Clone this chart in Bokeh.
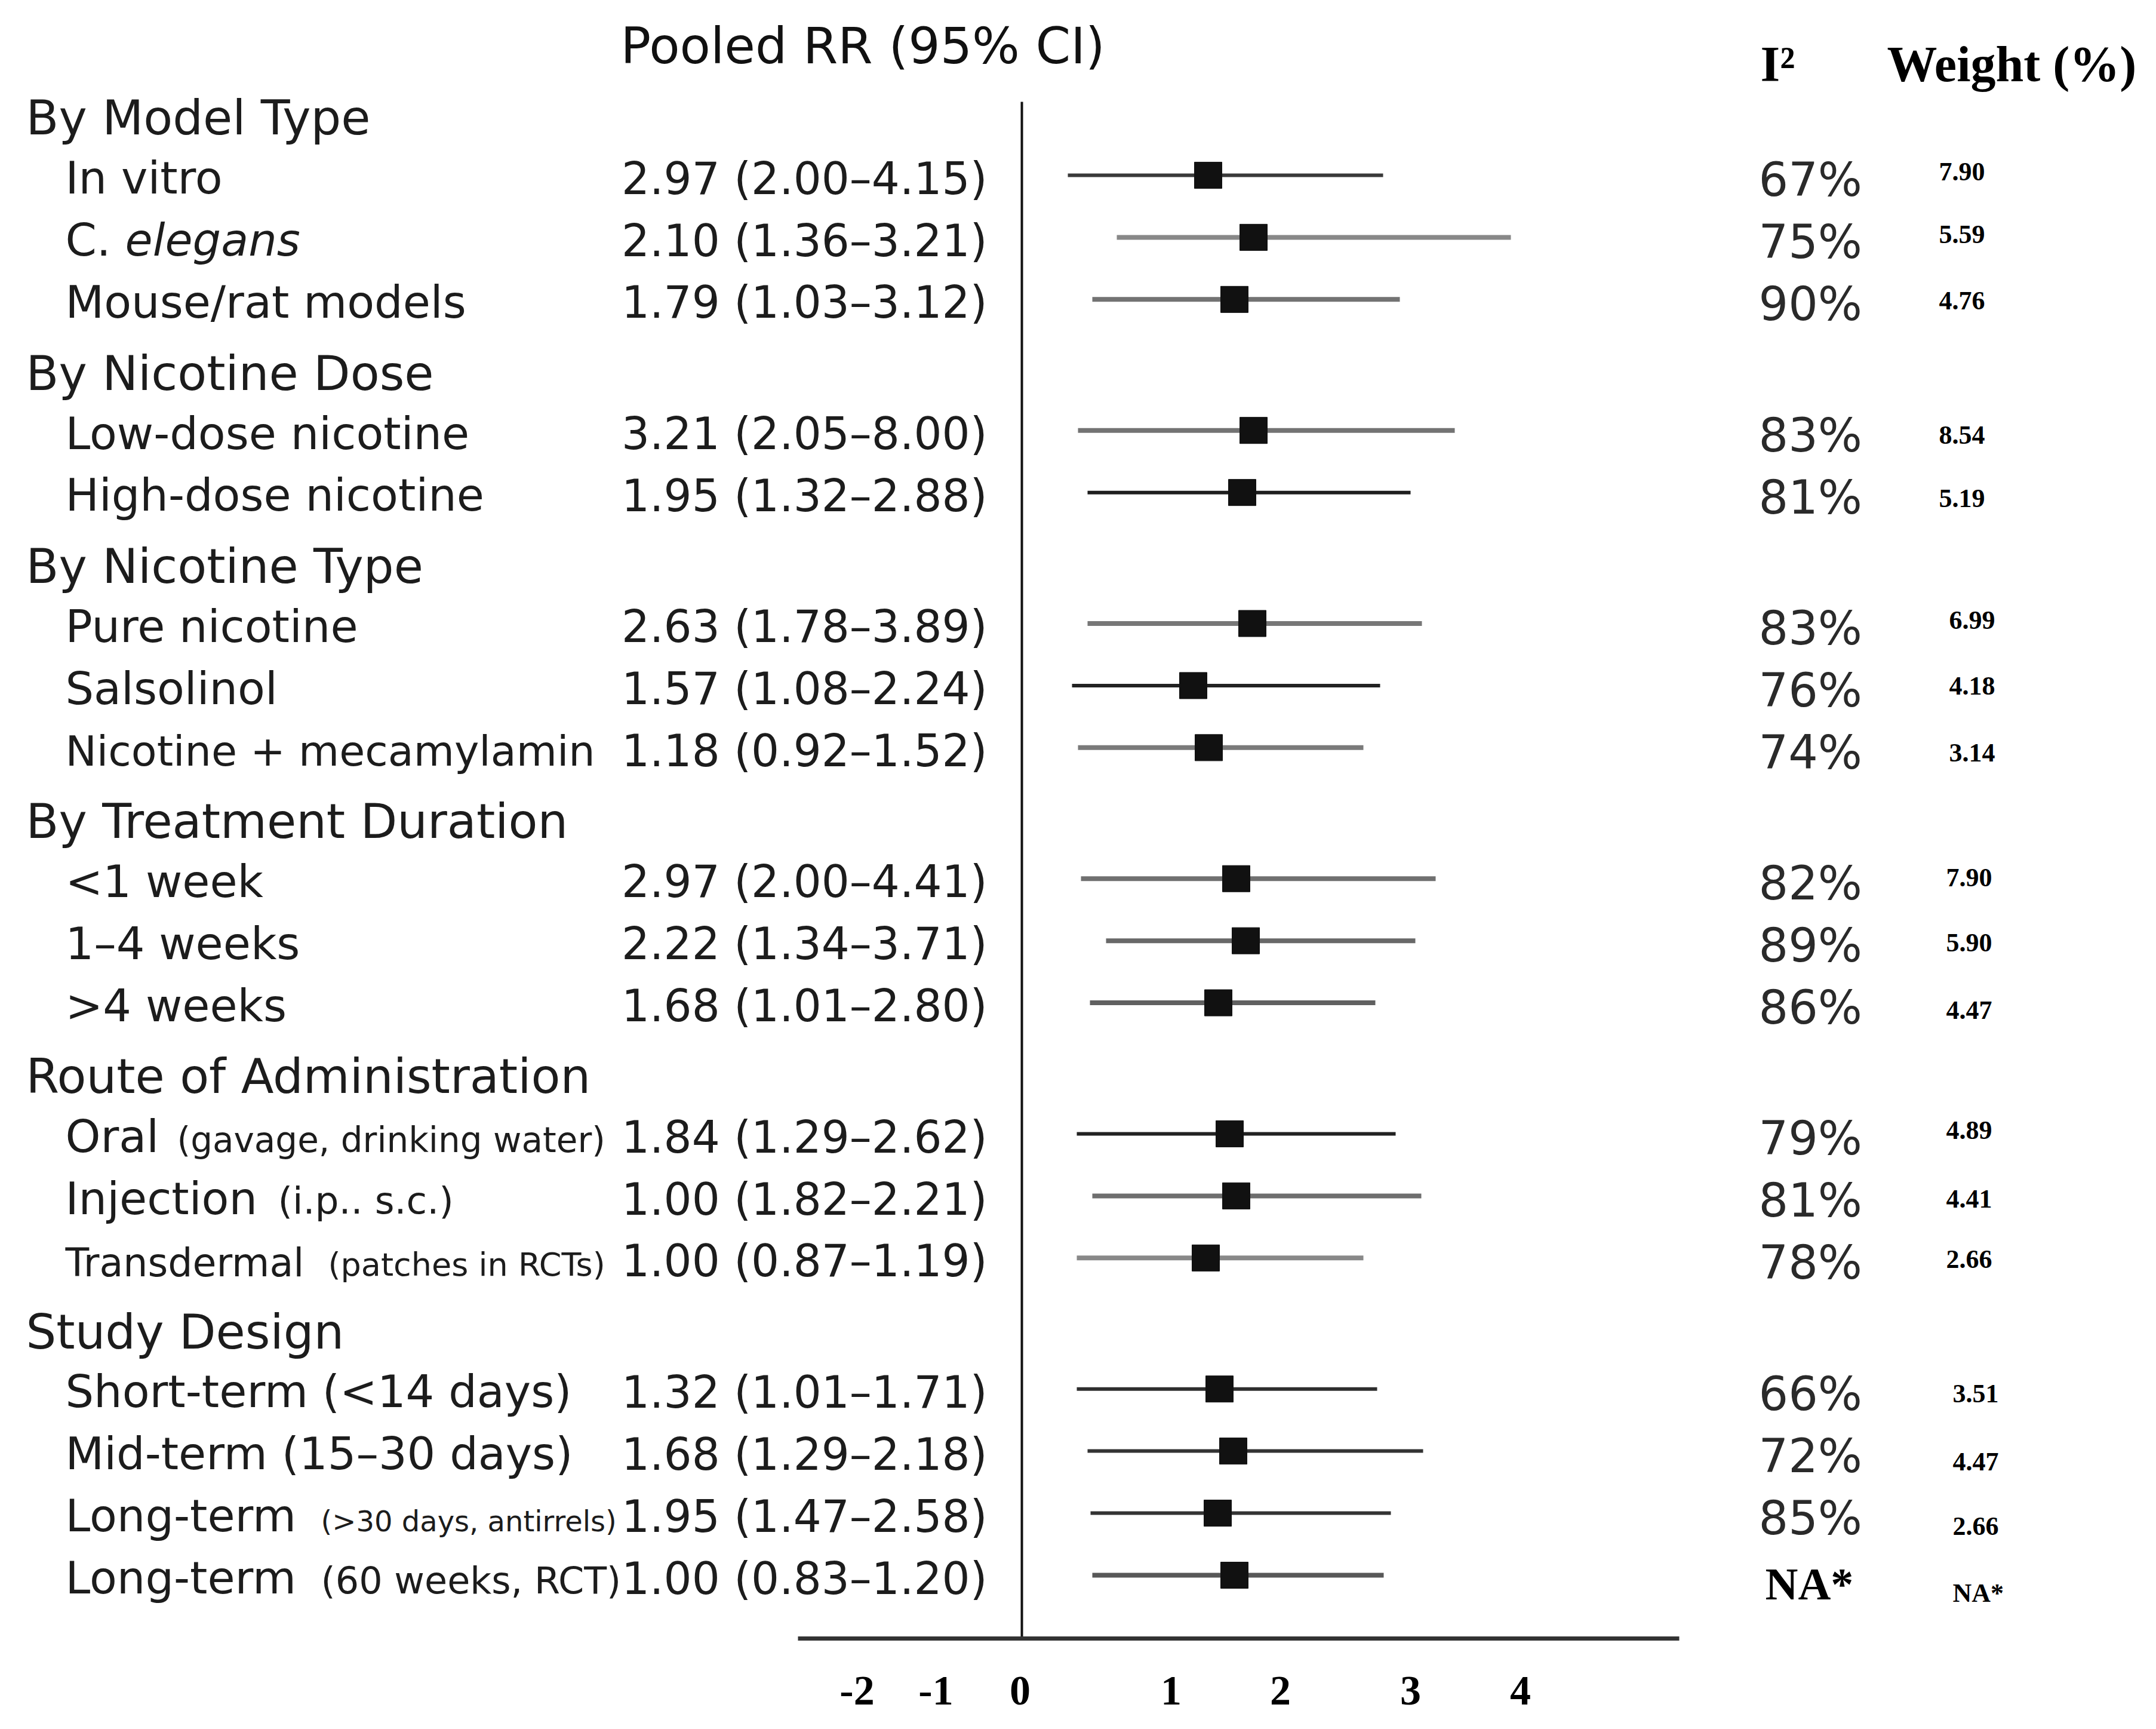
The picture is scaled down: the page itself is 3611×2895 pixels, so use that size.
from bokeh.plotting import figure
from bokeh.models import ColumnDataSource, Range1d, FixedTicker, CustomJSTickFormatter
from bokeh.core.properties import value
from bokeh.embed import file_html
from bokeh.resources import INLINE

# ---------------- data ----------------
groups = ["By Model Type", "By Nicotine Dose", "By Nicotine Type",
          "By Treatment Duration", "Route of Administration", "Study Design"]
group_sizes = [3, 2, 3, 3, 3, 4]

item_main = ["In vitro", "C.", "Mouse/rat models",
             "Low-dose nicotine", "High-dose nicotine",
             "Pure nicotine", "Salsolinol", "Nicotine + mecamylamin",
             "<1 week", "1\u20134 weeks", ">4 weeks",
             "Oral", "Injection", "Transdermal",
             "Short-term (<14 days)", "Mid-term (15\u201330 days)", "Long-term", "Long-term"]
item_note = ["", "elegans", "",
             "", "",
             "", "", "",
             "", "", "",
             "(gavage, drinking water)", "(i.p.. s.c.)", "(patches in RCTs)",
             "", "", "(>30 days, antirrels)", "(60 weeks, RCT)"]

rr_est = [2.97, 2.10, 1.79, 3.21, 1.95, 2.63, 1.57, 1.18, 2.97, 2.22, 1.68, 1.84, 1.00, 1.00, 1.32, 1.68, 1.95, 1.00]
rr_lo = [2.00, 1.36, 1.03, 2.05, 1.32, 1.78, 1.08, 0.92, 2.00, 1.34, 1.01, 1.29, 1.82, 0.87, 1.01, 1.29, 1.47, 0.83]
rr_hi = [4.15, 3.21, 3.12, 8.00, 2.88, 3.89, 2.24, 1.52, 4.41, 3.71, 2.80, 2.62, 2.21, 1.19, 1.71, 2.18, 2.58, 1.20]
i2_pct = [67, 75, 90, 83, 81, 83, 76, 74, 82, 89, 86, 79, 81, 78, 66, 72, 85, None]
weight_pct = [7.90, 5.59, 4.76, 8.54, 5.19, 6.99, 4.18, 3.14, 7.90, 5.90, 4.47, 4.89, 4.41, 2.66, 3.51, 4.47, 2.66, None]

# where the squares and whiskers sit on the drawn axis
plot_est = [1.248, 1.552, 1.424, 1.552, 1.476, 1.544, 1.148, 1.252, 1.436, 1.500, 1.316, 1.392, 1.436, 1.232, 1.324, 1.416, 1.312, 1.424]
plot_lo = [0.308, 0.636, 0.472, 0.376, 0.440, 0.440, 0.336, 0.376, 0.396, 0.564, 0.456, 0.368, 0.472, 0.368, 0.368, 0.440, 0.460, 0.472]
plot_hi = [2.420, 3.276, 2.532, 2.900, 2.604, 2.680, 2.400, 2.288, 2.772, 2.636, 2.368, 2.504, 2.676, 2.288, 2.380, 2.688, 2.472, 2.424]

tick_pos = [-1.104, -0.576, -0.012, 1.0, 1.732, 2.604, 3.34]
tick_labels = ["-2", "-1", "0", "1", "2", "3", "4"]

# ---------------- layout / style ----------------
W, H = 3595, 2879
X0_REF, UX = 1711.0, 250.0      # pixel of x=0, px per unit
Y0_REF, UY = 189.0, 103.95      # pixel of row 0, px per row
FRAME_BOTTOM = 2743


def X(ref):
    return (ref - X0_REF) / UX


def PY(px):
    return px / UY


def BL(row_y, size_px):
    # desired alphabetic baseline -> y handed to bokeh (empirical shift)
    return row_y - 0.31 * size_px / UY


line_colors = ["#3a3a3a", "#888888", "#737373", "#737373", "#1e1e1e", "#777777", "#222222", "#7a7a7a", "#707070",
               "#686868", "#606060", "#222222", "#6e6e6e", "#888888", "#2e2e2e", "#333333", "#333333", "#585858"]
line_widths = [6 if c in ("#3a3a3a", "#1e1e1e", "#222222", "#2e2e2e", "#333333") else 8 for c in line_colors]

main_px = [75] * 18
main_px[7] = 70
main_px[13] = 65
note_px = [75] * 18
note_px[11], note_px[12], note_px[13], note_px[16], note_px[17] = 58, 63, 54, 48, 62
note_styles = ["normal"] * 18
note_styles[1] = "italic"
note_offsets_px = [0, 100, 0, 0, 0, 0, 0, 0, 0, 0, 0, 187, 356, 440, 0, 0, 428, 428]
weight_nudge_px = [-7, -6, 1, 6, 9, -7, -1, 7, -3, 2, 11, -7, 4, 1, 6, 17, 21, 29]
group_weight_ref = [3247, 3247, 3264, 3259, 3259, 3270]

# row positions
item_y, header_y, item_group = [], [], []
y = 1.0
for g, n in enumerate(group_sizes):
    if g > 0:
        y += 1.11
    header_y.append(y - 0.93)
    for i in range(n):
        item_y.append(y)
        item_group.append(g)
        y += 1

y_bottom = (FRAME_BOTTOM - Y0_REF) / UY
y_top = (0 - Y0_REF) / UY

p = figure(width=W, height=H, output_backend="svg", toolbar_location=None,
           x_range=Range1d(X(0), X(W)), y_range=Range1d(y_bottom, y_top),
           y_axis_location=None, min_border_left=0, min_border_right=0,
           min_border_top=0, min_border_bottom=H - FRAME_BOTTOM)
p.outline_line_color = None
p.grid.visible = False
p.background_fill_color = "white"
p.border_fill_color = "white"

SANS = value("DejaVu Sans")
SERIF = value("Liberation Serif")
TXT = "#1c1c1c"

# header texts
p.text(x=[X(1039)], y=[BL(PY(103 - Y0_REF), 84)], text=["Pooled RR (95% CI)"], text_font=SANS,
       text_font_size="84px", text_color="#111111", text_baseline="alphabetic", text_align="left")
p.text(x=[X(2948), X(3160)], y=[BL(PY(133 - Y0_REF), 84)] * 2, text=["I\u00b2", "Weight (%)"], text_font=SERIF,
       text_font_style="bold", text_font_size="84px", text_color="#000000",
       text_baseline="alphabetic", text_align="left")

# group headings
p.text(x=[X(43)] * len(groups), y=[BL(hy + 0.25, 80) for hy in header_y], text=groups, text_font=SANS,
       text_font_size="80px", text_color=TXT, text_baseline="alphabetic", text_align="left")

# item labels
base = [yy + 0.27 for yy in item_y]
src_main = ColumnDataSource(dict(x=[X(109)] * 18, y=[BL(base[i], main_px[i]) for i in range(18)], t=item_main,
                                 s=[f"{v}px" for v in main_px]))
p.text(x="x", y="y", text="t", text_font_size="s", source=src_main, text_font=SANS,
       text_color=TXT, text_baseline="alphabetic", text_align="left")
idx = [i for i in range(18) if item_note[i]]
src_note = ColumnDataSource(dict(x=[X(109 + note_offsets_px[i]) for i in idx],
                                 y=[BL(base[i], note_px[i]) for i in idx],
                                 t=[item_note[i] for i in idx], s=[f"{note_px[i]}px" for i in idx],
                                 st=[note_styles[i] for i in idx]))
p.text(x="x", y="y", text="t", text_font_size="s", text_font_style="st", source=src_note,
       text_font=SANS, text_color=TXT, text_baseline="alphabetic", text_align="left")

# RR (95% CI)
rr_txt = [f"{e:.2f} ({l:.2f}\u2013{h:.2f})" for e, l, h in zip(rr_est, rr_lo, rr_hi)]
p.text(x=[X(1653)] * 18, y=[BL(b, 74) for b in base], text=rr_txt, text_font=SANS, text_font_size="74px",
       text_color=TXT, text_baseline="alphabetic", text_align="right")

# I^2
i2_idx = [i for i in range(18) if i2_pct[i] is not None]
p.text(x=[X(2945)] * len(i2_idx), y=[BL(item_y[i] + 0.31, 78) for i in i2_idx],
       text=[f"{i2_pct[i]}%" for i in i2_idx],
       text_font=SANS, text_font_size="78px", text_color="#2a2a2a", text_baseline="alphabetic", text_align="left")
na_idx = [i for i in range(18) if i2_pct[i] is None]
p.text(x=[X(2956)] * len(na_idx), y=[BL(item_y[i] + 0.37, 76) for i in na_idx], text=["NA*"] * len(na_idx),
       text_font=SERIF, text_font_style="bold", text_font_size="76px", text_color="#000000",
       text_baseline="alphabetic", text_align="left")

# weights
w_txt = [f"{w:.2f}" if w is not None else "NA*" for w in weight_pct]
p.text(x=[X(group_weight_ref[item_group[i]]) for i in range(18)],
       y=[BL(item_y[i] + PY(weight_nudge_px[i] + 15), 44) for i in range(18)], text=w_txt,
       text_font=SERIF, text_font_style="bold", text_font_size="44px", text_color="#000000",
       text_baseline="alphabetic", text_align="left")

# zero line
p.segment(x0=[0], y0=[PY(170 - Y0_REF)], x1=[0], y1=[y_bottom], line_color="#111111", line_width=4)

# whiskers and squares
src = ColumnDataSource(dict(y=item_y, est=plot_est, lo=plot_lo, hi=plot_hi, c=line_colors, w=line_widths))
p.segment(x0="lo", y0="y", x1="hi", y1="y", line_color="c", line_width="w", source=src)
p.rect(x="est", y="y", width=46, height=44, width_units="screen", height_units="screen",
       fill_color="#111111", line_color="#111111", line_width=1, source=src)

# axis
ax = p.xaxis[0]
ax.ticker = FixedTicker(ticks=tick_pos)
ax.formatter = CustomJSTickFormatter(args=dict(pos=tick_pos, lab=tick_labels), code="""
let b = 0;
for (let i = 0; i < pos.length; i++) { if (Math.abs(pos[i] - tick) < Math.abs(pos[b] - tick)) b = i; }
return lab[b];
""")
ax.bounds = (X(1336), X(2812))
ax.axis_line_width = 7
ax.axis_line_color = "#333333"
ax.major_tick_line_color = None
ax.minor_tick_line_color = None
ax.major_tick_out = 0
ax.major_tick_in = 0
ax.major_label_standoff = 64
ax.major_label_text_font = "Liberation Serif"
ax.major_label_text_font_style = "bold"
ax.major_label_text_font_size = "70px"
ax.major_label_text_color = "#000000"

open("out.html", "w").write(file_html(p, INLINE))
